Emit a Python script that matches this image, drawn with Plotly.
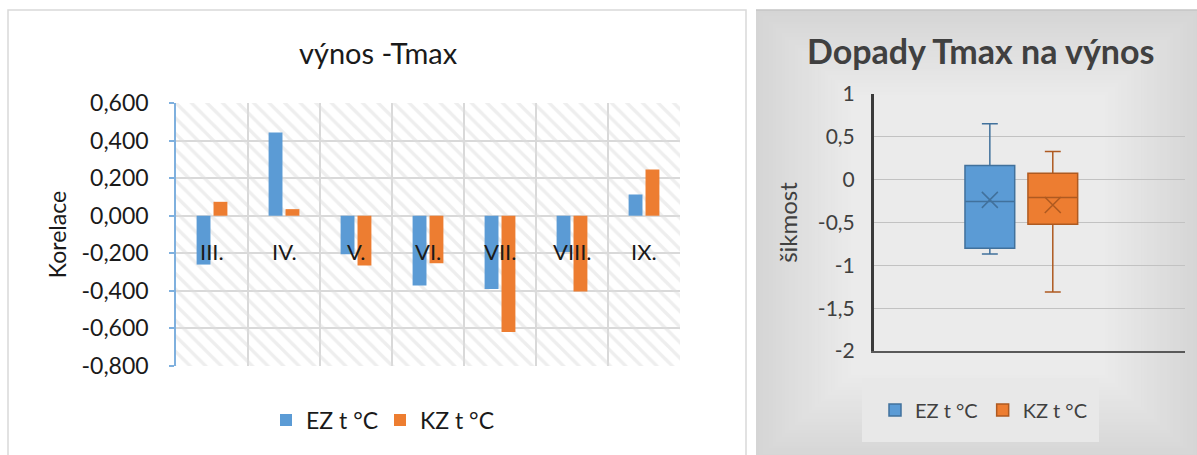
import plotly.graph_objects as go

# ---- data -------------------------------------------------------------
months = ["III.", "IV.", "V.", "VI.", "VII.", "VIII.", "IX."]
ez_corr = [-0.260, 0.443, -0.205, -0.372, -0.390, -0.193, 0.113]
kz_corr = [0.074, 0.035, -0.265, -0.253, -0.619, -0.404, 0.246]
corr_ticks = [0.6, 0.4, 0.2, 0.0, -0.2, -0.4, -0.6, -0.8]
corr_labels = ["0,600", "0,400", "0,200", "0,000", "-0,200", "-0,400", "-0,600", "-0,800"]

series = ["EZ t °C", "KZ t °C"]
box_q1 = [-0.80, -0.52]
box_median = [-0.256, -0.209]
box_q3 = [0.165, 0.076]
box_low = [-0.868, -1.31]
box_high = [0.653, 0.33]
box_mean = [-0.236, -0.295]
skew_ticks = [1, 0.5, 0, -0.5, -1, -1.5, -2]
skew_labels = ["1", "0,5", "0", "-0,5", "-1", "-1,5", "-2"]

# ---- styles -----------------------------------------------------------
W, H = 1197, 455
BLUE, ORANGE = "#5b9bd5", "#ed7d31"
BLUE_DARK, ORANGE_DARK = "#41719c", "#ae5a21"
FONT = "Lato"
GRID = "#d9d9d9"
INK = "#1a1a1a"

pos = list(range(len(months)))
xrange_bar = [-0.5, len(months) - 0.5]

fig = go.Figure()

# hatched plot-area background of the bar chart (base subplot x/y)
fig.add_trace(go.Scatter(
    x=[xrange_bar[0], xrange_bar[1], xrange_bar[1], xrange_bar[0], xrange_bar[0]],
    y=[corr_ticks[-1], corr_ticks[-1], corr_ticks[0], corr_ticks[0], corr_ticks[-1]],
    mode="lines", line=dict(width=0), fill="toself",
    fillcolor="rgba(0,0,0,0)",
    fillpattern=dict(shape="\\", size=11, solidity=0.3, fgcolor="#dedede",
                     bgcolor="rgba(0,0,0,0)"),
    hoverinfo="skip", showlegend=False, xaxis="x", yaxis="y",
))

# bars live on an overlaying x axis so they sit above the hatching
for name, vals, col in [(series[0], ez_corr, BLUE), (series[1], kz_corr, ORANGE)]:
    fig.add_trace(go.Bar(
        x=pos, y=vals, name=name, marker=dict(color=col, line=dict(width=0)),
        xaxis="x3", yaxis="y", legend="legend",
    ))

# category labels sit just under the zero line
annotations = []
for p, m in zip(pos, months):
    annotations.append(dict(
        x=p, y=0, xref="x3", yref="y", text=m, showarrow=False,
        yanchor="middle", yshift=-36, font=dict(family=FONT, size=22, color=INK),
    ))

# ---- box plot ---------------------------------------------------------
for i, (name, fill, edge) in enumerate([(series[0], BLUE, BLUE_DARK), (series[1], ORANGE, ORANGE_DARK)]):
    fig.add_trace(go.Box(
        x=[i], q1=[box_q1[i]], median=[box_median[i]], q3=[box_q3[i]],
        lowerfence=[box_low[i]], upperfence=[box_high[i]],
        name=name, width=0.79, whiskerwidth=0.32, boxpoints=False,
        fillcolor=fill, line=dict(color=edge, width=1.5),
        xaxis="x2", yaxis="y2", legend="legend2", hoverinfo="skip",
    ))
    fig.add_trace(go.Scatter(
        x=[i], y=[box_mean[i]], mode="markers",
        marker=dict(symbol="x-thin", size=16, line=dict(color=edge, width=1.5)),
        showlegend=False, xaxis="x2", yaxis="y2", hoverinfo="skip",
    ))

# ---- decoration shapes ------------------------------------------------
shapes = []
# right panel: soft grey vignette built from concentric rectangles
x0, x1, y0, y1 = 756, 1200, 10, 460
outer, inner = (213, 213, 213), (235, 235, 235)
steps = 30
for k in range(steps):
    t = k / (steps - 1)
    c = tuple(round(outer[j] + (inner[j] - outer[j]) * t) for j in range(3))
    dx = 95 * t
    dy = 85 * t
    shapes.append(dict(
        type="rect", xref="paper", yref="paper", layer="below",
        x0=(x0 + dx) / W, x1=(x1 - dx) / W,
        y0=1 - (y1 - dy) / H, y1=1 - (y0 + dy) / H,
        fillcolor="rgb(%d,%d,%d)" % c, line=dict(width=0),
    ))
shapes.append(dict(type="line", xref="paper", yref="paper", layer="below",
                   x0=x0 / W, x1=1, y0=1 - y0 / H, y1=1 - y0 / H,
                   line=dict(color="#c4c4c4", width=1.5)))
# legend panel of the box plot
shapes.append(dict(type="rect", xref="paper", yref="paper", layer="below",
                   x0=862 / W, x1=1099 / W, y0=1 - 442 / H, y1=1 - 378 / H,
                   fillcolor="#e8e8e8", line=dict(width=0)))
# frame of the bar chart
shapes.append(dict(type="rect", xref="paper", yref="paper", layer="below",
                   x0=8 / W, x1=746 / W, y0=-0.05, y1=1 - 10 / H,
                   fillcolor="white", line=dict(color=GRID, width=1.5)))

bar_domain_x = [176 / W, 680 / W]

fig.update_layout(
    width=W, height=H,
    margin=dict(l=0, r=0, t=0, b=0, autoexpand=False),
    paper_bgcolor="white", plot_bgcolor="rgba(0,0,0,0)",
    font=dict(family=FONT, color=INK),
    barmode="group", bargap=0.53, bargroupgap=0.18,
    showlegend=True,
    xaxis=dict(
        domain=bar_domain_x, range=xrange_bar,
        tickvals=[p - 0.5 for p in pos] + [xrange_bar[1]],
        showticklabels=False, ticks="", showgrid=True, gridcolor=GRID, gridwidth=1.5,
        zeroline=False, showline=False, fixedrange=True,
    ),
    xaxis3=dict(
        overlaying="x", range=xrange_bar, anchor="y",
        showticklabels=False, ticks="", showgrid=False, zeroline=False,
        showline=False, fixedrange=True,
    ),
    yaxis=dict(
        domain=[1 - 366 / H, 1 - 103 / H], range=[corr_ticks[-1], corr_ticks[0]],
        tickvals=corr_ticks, ticktext=corr_labels,
        tickfont=dict(family=FONT, size=23, color=INK),
        ticks="outside", ticklen=5, tickcolor="#7fb0de", tickwidth=1.5,
        ticklabelstandoff=16,
        showgrid=True, gridcolor=GRID, gridwidth=1.5, zeroline=False,
        showline=True, linecolor="#7fb0de", linewidth=1.5,
        title=dict(text="Korelace", font=dict(family=FONT, size=23, color=INK), standoff=8),
        fixedrange=True,
    ),
    xaxis2=dict(
        domain=[874 / W, 1185 / W], range=[-1.84, 3.1], anchor="y2",
        showticklabels=False, ticks="", showgrid=False, zeroline=False,
        showline=True, linecolor="#595959", linewidth=1.5, fixedrange=True,
    ),
    yaxis2=dict(
        domain=[1 - 351 / H, 1 - 94 / H], range=[skew_ticks[-1], skew_ticks[0]], anchor="x2",
        tickvals=skew_ticks, ticktext=skew_labels,
        tickfont=dict(family=FONT, size=21, color="#404040"),
        ticks="", ticklabelstandoff=12,
        showgrid=True, gridcolor="#c2c2c2", gridwidth=1.2, zeroline=False,
        showline=True, linecolor="#3a3a3a", linewidth=3,
        title=dict(text="šikmost", font=dict(family=FONT, size=24, color="#404040"), standoff=14),
        fixedrange=True,
    ),
    legend=dict(
        orientation="h", x=266 / W, y=1 - 420 / H, xanchor="left", yanchor="middle",
        font=dict(family=FONT, size=23, color=INK), bgcolor="rgba(0,0,0,0)",
        itemwidth=30, tracegroupgap=0, entrywidth=69, entrywidthmode="pixels",
    ),
    legend2=dict(
        orientation="h", x=984 / W, y=1 - 410 / H, xanchor="center", yanchor="middle",
        font=dict(family=FONT, size=20, color="#404040"), bgcolor="rgba(0,0,0,0)",
        itemwidth=30,
    ),
    annotations=annotations + [
        dict(text="výnos -Tmax", x=378 / W, y=1 - 52 / H, xref="paper", yref="paper",
             showarrow=False, xanchor="center", yanchor="middle",
             font=dict(family=FONT, size=29, color=INK)),
        dict(text="<b>Dopady Tmax na výnos</b>", x=980 / W, y=1 - 50 / H, xref="paper", yref="paper",
             showarrow=False, xanchor="center", yanchor="middle",
             font=dict(family=FONT, size=34, color="#404040")),
    ],
    shapes=shapes,
)

fig.write_html("out.html")
